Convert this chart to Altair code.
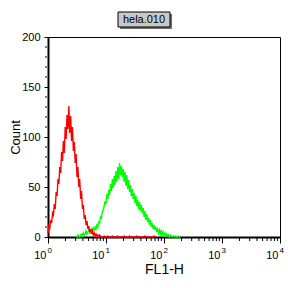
import altair as alt
import pandas as pd

# ---- data ----
step = 4                 # channels per sample
channels_per_decade = 256

red_start = 0            # first sample index
red_counts = [4, 11, 9, 17, 14, 24, 22, 33, 28, 45, 41, 58, 53, 70, 64, 85, 76, 96, 84, 110,
              98, 122, 108, 131, 104, 121, 96, 110, 86, 95, 74, 83, 60, 70, 50, 58, 38, 46, 28, 32,
              18, 22, 12, 16, 8, 11, 5, 8, 3, 6, 2, 4, 1, 3, 1, 2, 0, 2, 1, 0,
              0, 0, 1, 0, 0, 0, 1, 0, 0, 0, 0, 1, 0, 0, 0, 0, 0, 1, 0, 0,
              0, 0, 0, 0, 1, 0, 0, 0, 0, 0, 1, 0, 0, 0, 0, 0, 0, 0, 1, 0,
              0, 0, 0, 0, 0, 0, 0, 1, 0, 0, 0, 0, 0, 0, 0, 0, 0, 1, 0, 0]

green_start = 31
green_counts = [1, 0, 2, 1, 0, 2, 3, 1, 4, 2, 3, 6, 3, 5, 7, 4, 6, 8, 5, 9,
                7, 10, 8, 12, 10, 15, 14, 20, 19, 26, 27, 31, 36, 33, 43, 38, 47, 42, 53, 46,
                58, 49, 61, 52, 66, 55, 70, 58, 74, 62, 71, 60, 68, 55, 65, 51, 62, 48, 57, 45,
                52, 41, 48, 38, 44, 34, 41, 31, 37, 28, 35, 26, 32, 24, 29, 20, 26, 17, 23, 15,
                19, 12, 17, 10, 14, 8, 12, 7, 10, 5, 8, 4, 7, 3, 6, 2, 5, 2, 4, 1,
                3, 1, 2, 0, 2, 1, 0, 1, 1, 0, 1, 0, 0, 1, 0, 0]

x_major = [1, 10, 100, 1000, 10000]
x_exp = ["0", "1", "2", "3", "4"]
x_minor = [m * 10 ** d for d in range(4) for m in range(2, 10)]
y_major = [0, 50, 100, 150, 200]
y_minor = [10, 20, 30, 40, 60, 70, 80, 90, 110, 120, 130, 140, 160, 170, 180, 190]
title_text = "hela.010"
x_title = "FL1-H"
y_title = "Count"

FONT = "Liberation Sans"


def series(start, counts):
    return pd.DataFrame({
        "fl": [10 ** ((start + i) * step / channels_per_decade) for i in range(len(counts))],
        "count": counts,
    })


red_df = series(red_start, red_counts)
green_df = series(green_start, green_counts)

xs = alt.Scale(type="log", domain=[1, 10000])
ys = alt.Scale(domain=[0, 200], nice=False)

AX = alt.Axis(values=x_major, labels=False, tickSize=6, tickColor="black", tickWidth=1,
              domainColor="black", domainWidth=2, grid=False,
              title=x_title, titleFont=FONT, titleFontSize=14, titleFontWeight="normal",
              titleColor="black", titleX=116, titleY=36, titleBaseline="alphabetic",
              titleAlign="center")
AY = alt.Axis(values=y_major, tickSize=4, tickColor="black", tickWidth=1,
              domainColor="black", domainWidth=2, grid=False,
              labelFont=FONT, labelFontSize=11, labelColor="black", labelPadding=4,
              title=y_title, titleFont=FONT, titleFontSize=13, titleFontWeight="normal",
              titleColor="black", titleX=-26, titleY=100, titleAngle=270,
              titleAlign="center", titleBaseline="bottom")

X = alt.X("fl:Q", scale=xs, axis=AX)
Y = alt.Y("count:Q", scale=ys, axis=AY)

green = alt.Chart(green_df).mark_line(color="#00ff00", strokeWidth=1.4).encode(x=X, y=Y)
red = alt.Chart(red_df).mark_line(color="#ff0000", strokeWidth=1.4).encode(x=X, y=Y)

xminor = alt.Chart(pd.DataFrame({"fl": x_minor})).mark_rule(color="black", strokeWidth=1).encode(
    x=X, y=alt.value(201), y2=alt.value(204))
yminor = alt.Chart(pd.DataFrame({"count": y_minor})).mark_rule(color="black", strokeWidth=1).encode(
    y=Y, x=alt.value(-1), x2=alt.value(-3))

lab_df = pd.DataFrame({"fl": x_major, "exp": x_exp, "base": ["10"] * len(x_major)})
lab10 = alt.Chart(lab_df).mark_text(font=FONT, fontSize=11, align="right", baseline="alphabetic",
                                    dx=-1.5, color="black").encode(
    x=X, y=alt.value(222), text="base:N")
labexp = alt.Chart(lab_df).mark_text(font=FONT, fontSize=8, align="left", baseline="alphabetic",
                                     dx=-0.5, color="black").encode(
    x=X, y=alt.value(216), text="exp:N")

tdf = pd.DataFrame({"t": [title_text]})
shadow = alt.Chart(tdf).mark_rect(color="#707070").encode(
    x=alt.value(72), x2=alt.value(124), y=alt.value(-23), y2=alt.value(-8))
box = alt.Chart(tdf).mark_rect(fill="#c8c8c8", stroke="black", strokeWidth=1).encode(
    x=alt.value(70), x2=alt.value(122), y=alt.value(-25), y2=alt.value(-10))
ttext = alt.Chart(tdf).mark_text(font=FONT, fontSize=11, align="center", baseline="alphabetic",
                                 color="black").encode(
    x=alt.value(96), y=alt.value(-14), text="t:N")

chart = alt.layer(green, red, xminor, yminor, lab10, labexp, shadow, box, ttext).properties(
    width=232, height=200,
    padding={"left": 48, "top": 37, "right": 8, "bottom": 51},
    autosize="none",
).configure(background="white", view=alt.ViewConfig(stroke="black", strokeWidth=1))

chart.save("out.html", embed_options={"renderer": "svg", "actions": False})
